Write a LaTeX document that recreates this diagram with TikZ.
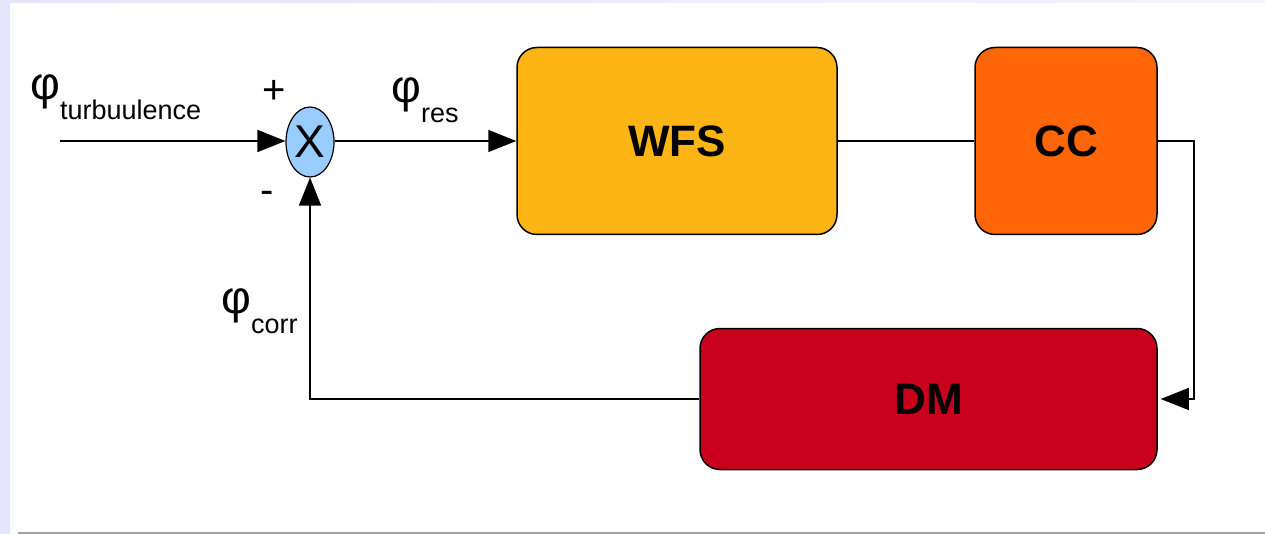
\documentclass[tikz,border=0pt]{standalone}
\usepackage{fontspec}
\setmainfont{Liberation Sans}
\usetikzlibrary{arrows.meta,shapes.geometric}
\definecolor{wfsc}{HTML}{FDB515}
\definecolor{ccc}{HTML}{FF6608}
\definecolor{dmc}{HTML}{C8001C}
\definecolor{sumc}{HTML}{99CCFF}
\definecolor{lav}{HTML}{E4E4FC}
\definecolor{botline}{HTML}{A0A0AA}
\begin{document}
\begin{tikzpicture}[x=1pt,y=-1pt,
  blk/.style={draw=black, line width=1.5pt, rounded corners=20pt, inner sep=0pt,
    font=\fontsize{44}{44}\selectfont\bfseries},
  conn/.style={line width=1.5pt},
  arr/.style={conn, -{Triangle[length=28pt,width=22pt]}},
  lbl/.style={anchor=base west, inner sep=0pt, font=\fontsize{46}{46}\selectfont},
  sgn/.style={inner sep=0pt, font=\fontsize{40}{40}\selectfont}]
\useasboundingbox (0,0) rectangle (1265,534);
\fill[white] (0,0) rectangle (1265,534);
\shade[left color=lav, right color=lav!40] (0,0) rectangle (1265,3);
\fill[lav] (0,0) rectangle (10,534);
\draw[botline, line width=1.5pt] (18,533) -- (1265,533);

\node[blk, fill=wfsc, minimum width=320pt, minimum height=187pt] (wfs) at (677,141) {WFS};
\node[blk, fill=ccc, minimum width=182pt, minimum height=187pt] (cc) at (1066,141) {CC};
\node[blk, fill=dmc, minimum width=457pt, minimum height=141pt] (dm) at (928.5,399) {DM};
\node[ellipse, draw=black, line width=1.2pt, fill=sumc, minimum width=48pt, minimum height=70pt,
  inner sep=0pt, font=\fontsize{46}{46}\selectfont] (sum) at (310,142) {X};

\coordinate (in) at (60,141);
\draw[arr] (in) -- (sum.west |- in);
\draw[arr] (sum.east |- in) -- (wfs.west);
\draw[conn] (wfs.east) -- (cc.west);
\draw[arr, shorten >=3pt] (cc.east) -- ++(36,0) |- (dm.east);
\draw[arr] (dm.west) -| (sum.south);

\node[lbl] (lturb) at (30,100) {φ\raisebox{-20pt}{\fontsize{27}{27}\selectfont turbuulence}};
\node[lbl] (lres) at (391,103) {φ\raisebox{-20pt}{\fontsize{27}{27}\selectfont res}};
\node[lbl] (lcorr) at (221,313) {φ\raisebox{-20pt}{\fontsize{27}{27}\selectfont corr}};
\node[sgn] (plus) at (274,92) {+};
\node[sgn] (minus) at (267,197) {-};
\end{tikzpicture}
\end{document}
